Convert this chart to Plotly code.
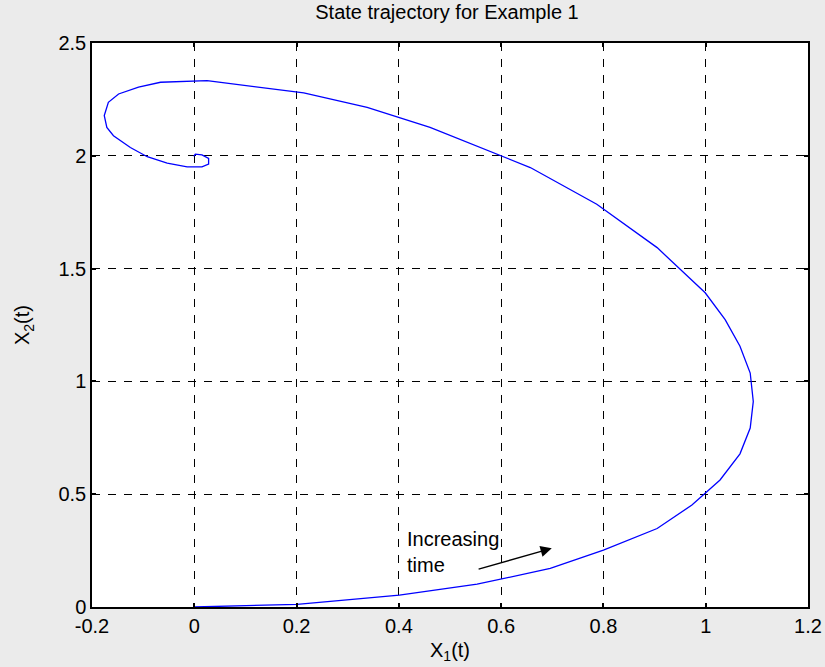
import plotly.graph_objects as go

x1 = [0.0, 0.201, 0.401, 0.553, 0.696, 0.800, 0.905, 0.973, 1.028, 1.067, 1.087, 1.093,
      1.087, 1.067, 1.038, 0.999, 0.905, 0.787, 0.657, 0.6, 0.461, 0.338, 0.214, 0.025,
      -0.066, -0.109, -0.148, -0.168, -0.176, -0.171, -0.158, -0.125, -0.092, -0.053,
      -0.014, 0.015, 0.028, 0.028, 0.015, 0.002, -0.001]
x2 = [0.0, 0.012, 0.053, 0.101, 0.171, 0.252, 0.348, 0.452, 0.563, 0.679, 0.793, 0.911,
      1.037, 1.156, 1.274, 1.393, 1.593, 1.785, 1.948, 2.0, 2.126, 2.215, 2.279, 2.333,
      2.326, 2.304, 2.274, 2.237, 2.178, 2.126, 2.089, 2.037, 1.996, 1.968,
      1.951, 1.951, 1.963, 1.988, 2.004, 2.007, 1.997]

xticks = [-0.2, 0, 0.2, 0.4, 0.6, 0.8, 1, 1.2]
xticklabels = ["-0.2", "0", "0.2", "0.4", "0.6", "0.8", "1", "1.2"]
yticks = [0, 0.5, 1, 1.5, 2, 2.5]
yticklabels = ["0", "0.5", "1", "1.5", "2", "2.5"]

arrow_tail = (0.553, 0.166)
arrow_head = (0.699, 0.260)

FONT = "Liberation Sans, Arial, sans-serif"
FS = 20
BG = "#ebebeb"

fig = go.Figure()
fig.add_trace(go.Scatter(x=x1, y=x2, mode="lines",
                         line=dict(color="#0000ff", width=1.3), showlegend=False))

fig.add_annotation(x=arrow_head[0], y=arrow_head[1], ax=arrow_tail[0], ay=arrow_tail[1],
                   xref="x", yref="y", axref="x", ayref="y", text="",
                   showarrow=True, arrowhead=2, arrowsize=1.6, arrowwidth=1.4,
                   arrowcolor="black")
fig.add_annotation(x=0.412, y=0.245, xref="x", yref="y", text="Increasing<br>time",
                   showarrow=False, xanchor="left", yanchor="middle", align="left",
                   font=dict(size=FS, color="black", family=FONT))

axis_common = dict(showline=True, linecolor="black", linewidth=1.5, mirror="ticks",
                   ticks="inside", ticklen=4, tickcolor="black", tickwidth=1.5,
                   showgrid=True, gridcolor="black", gridwidth=1, griddash="8px,8px",
                   zeroline=False, automargin=False,
                   tickfont=dict(size=FS, color="black", family=FONT))

fig.update_layout(
    width=825, height=667,
    paper_bgcolor=BG, plot_bgcolor="white",
    margin=dict(l=92, r=17, t=43, b=60),
    font=dict(family=FONT, size=FS, color="black"),
    title=dict(text="State trajectory for Example 1", x=447/825, xanchor="center",
               y=1 - 5/667, yanchor="top", font=dict(size=FS, color="black", family=FONT)),
    xaxis=dict(range=[-0.2, 1.2], tickvals=xticks, ticktext=xticklabels,
               title=dict(text="X<sub>1</sub>(t)", standoff=7,
                          font=dict(size=FS, family=FONT)),
               **axis_common),
    yaxis=dict(range=[0, 2.5], tickvals=yticks, ticktext=yticklabels,
               title=dict(text="X<sub>2</sub>(t)", standoff=23,
                          font=dict(size=FS, family=FONT)),
               **axis_common),
)

fig.write_html(
    "out.html",
    config={"displayModeBar": False},
    post_script="document.body.style.margin='0';document.body.style.background='%s';" % BG,
)
